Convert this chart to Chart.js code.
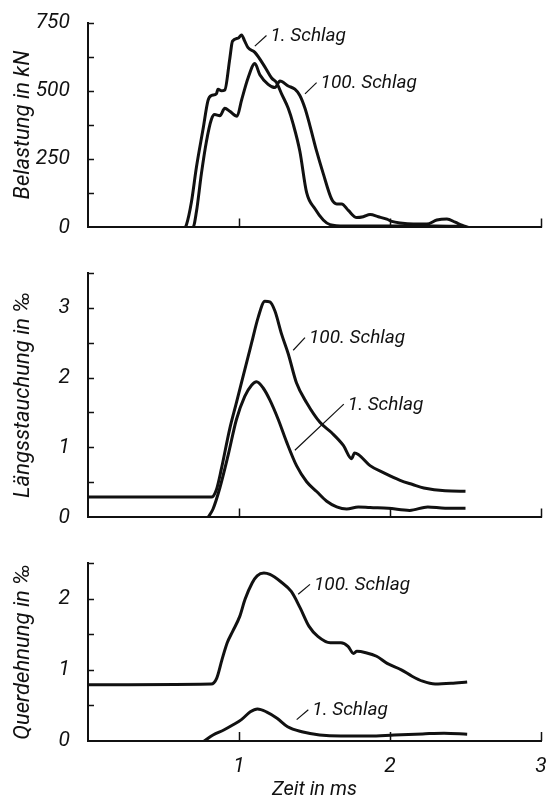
<!DOCTYPE html>
<html>
<head>
<meta charset="utf-8">
<script src="https://cdn.jsdelivr.net/npm/chart.js@4.4.0/dist/chart.umd.min.js"></script>
<style>
  body { margin: 0; background: #fff; width: 552px; height: 802px; overflow: hidden; position: relative; }
  canvas { position: absolute; left: 0; }
</style>
</head>
<body>
<canvas id="chartBelastung" width="552" height="250" style="top:0px"></canvas>
<canvas id="chartLaengs" width="552" height="290" style="top:250px"></canvas>
<canvas id="chartQuer" width="552" height="262" style="top:540px"></canvas>
<script>
// Zeit in ms / Werte

// Belastung in kN
const belZeit1 = [0.60, 0.64, 0.652, 0.685, 0.718, 0.762, 0.795, 0.817, 0.85, 0.861, 0.884, 0.906, 0.939, 0.957, 0.994, 1.017, 1.038, 1.06, 1.105, 1.171, 1.216, 1.249, 1.282, 1.326, 1.359, 1.403, 1.448, 1.503, 1.558, 1.603, 1.7, 2.0, 2.3, 2.5];
const belWert1 = [0, 0, 10, 93, 220, 360, 465, 483, 489, 506, 500, 503, 618, 682, 693, 705, 682, 658, 641, 588, 547, 530, 489, 436, 378, 279, 127, 68, 27, 10, 5, 5, 5, 3];
const belZeit100 = [0.66, 0.695, 0.718, 0.751, 0.784, 0.817, 0.839, 0.873, 0.906, 0.939, 0.987, 1.017, 1.06, 1.105, 1.138, 1.193, 1.238, 1.271, 1.326, 1.37, 1.403, 1.437, 1.47, 1.514, 1.558, 1.614, 1.647, 1.68, 1.724, 1.78, 1.823, 1.868, 1.923, 1.979, 2.012, 2.067, 2.155, 2.244, 2.31, 2.377, 2.432, 2.476, 2.52];
const belWert100 = [0, 0, 57, 197, 314, 395, 413, 409, 436, 425, 407, 466, 547, 600, 559, 524, 512, 536, 518, 506, 483, 436, 372, 279, 197, 103, 86, 86, 62, 36, 39, 47, 39, 30, 22, 16, 12, 12, 27, 31, 19, 8, 0];

// Längsstauchung in ‰
const laeZeit1 = [0.795, 0.828, 0.873, 0.928, 0.983, 1.038, 1.083, 1.116, 1.16, 1.204, 1.26, 1.315, 1.381, 1.448, 1.514, 1.581, 1.647, 1.713, 1.79, 1.868, 1.988, 2.13, 2.25, 2.365, 2.5];
const laeWert1 = [0, 0.12, 0.42, 0.89, 1.40, 1.73, 1.89, 1.94, 1.85, 1.68, 1.40, 1.08, 0.74, 0.51, 0.37, 0.23, 0.15, 0.12, 0.15, 0.14, 0.13, 0.10, 0.15, 0.13, 0.13];
const laeZeit100 = [0, 0.817, 0.851, 0.884, 0.939, 0.983, 1.038, 1.083, 1.127, 1.171, 1.204, 1.238, 1.282, 1.326, 1.381, 1.448, 1.536, 1.614, 1.691, 1.746, 1.765, 1.79, 1.868, 1.956, 2.067, 2.15, 2.224, 2.365, 2.5];
const laeWert100 = [0.29, 0.29, 0.40, 0.70, 1.27, 1.64, 2.11, 2.49, 2.86, 3.09, 3.08, 2.95, 2.62, 2.34, 1.92, 1.64, 1.36, 1.21, 1.03, 0.84, 0.92, 0.90, 0.74, 0.64, 0.53, 0.47, 0.42, 0.38, 0.375];

// Querdehnung in ‰
const querZeit1 = [0.769, 0.828, 0.899, 0.958, 1.016, 1.075, 1.122, 1.181, 1.252, 1.322, 1.416, 1.534, 1.675, 1.864, 2.028, 2.216, 2.358, 2.511];
const querWert1 = [0, 0.085, 0.155, 0.225, 0.30, 0.41, 0.45, 0.41, 0.32, 0.20, 0.13, 0.085, 0.07, 0.07, 0.085, 0.10, 0.11, 0.095];
const querZeit100 = [0, 0.816, 0.852, 0.887, 0.922, 0.958, 1.005, 1.04, 1.087, 1.12, 1.165, 1.205, 1.275, 1.346, 1.405, 1.464, 1.522, 1.605, 1.675, 1.722, 1.758, 1.781, 1.84, 1.911, 1.981, 2.075, 2.146, 2.216, 2.299, 2.405, 2.511];
const querWert100 = [0.79, 0.80, 0.88, 1.14, 1.38, 1.54, 1.75, 1.99, 2.22, 2.32, 2.36, 2.34, 2.24, 2.10, 1.87, 1.61, 1.47, 1.38, 1.38, 1.33, 1.23, 1.26, 1.24, 1.19, 1.09, 1.0, 0.91, 0.84, 0.80, 0.81, 0.83];

// Beschriftungen mit Hinweislinie (von Kurve -> zum Text), in Datenwerten
const notizenBel = [
  { text: '1. Schlag', von: [1.105, 664], bis: [1.182, 703] },
  { text: '100. Schlag', von: [1.437, 489], bis: [1.514, 530] }
];
const notizenLae = [
  { text: '100. Schlag', von: [1.359, 2.39], bis: [1.437, 2.57] },
  { text: '1. Schlag', von: [1.370, 0.96], bis: [1.694, 1.62] }
];
const notizenQuer = [
  { text: '100. Schlag', von: [1.392, 2.06], bis: [1.47, 2.20] },
  { text: '1. Schlag', von: [1.382, 0.30], bis: [1.459, 0.44] }
];

const SCHRIFT = 'Roboto, "Liberation Sans", sans-serif';
const FARBE = '#111';

function punkte(zeit, wert) {
  return zeit.map((t, i) => ({ x: t, y: wert[i] }));
}

function kurve(zeit, wert) {
  return {
    data: punkte(zeit, wert),
    borderColor: FARBE,
    borderWidth: 3,
    pointRadius: 0,
    fill: false,
    cubicInterpolationMode: 'monotone'
  };
}

// Striche nach innen an den Achsen
const innenTicks = {
  id: 'innenTicks',
  afterDraw(chart) {
    const { ctx, chartArea } = chart;
    const x = chart.scales.x, y = chart.scales.y;
    ctx.save();
    ctx.strokeStyle = FARBE;
    ctx.lineWidth = 1.5;
    ctx.beginPath();
    y.ticks.forEach(tk => {
      if (tk.value === 0) return;
      const py = Math.round(y.getPixelForValue(tk.value)) + 0.5;
      ctx.moveTo(chartArea.left, py);
      ctx.lineTo(chartArea.left + 6, py);
    });
    x.ticks.forEach(tk => {
      if (tk.value === 0) return;
      const px = Math.round(x.getPixelForValue(tk.value)) + 0.5;
      ctx.moveTo(px, chartArea.bottom);
      ctx.lineTo(px, chartArea.bottom - 9);
    });
    ctx.stroke();
    ctx.restore();
  }
};

// Texte "1. Schlag" / "100. Schlag" mit Hinweislinie
const notizen = {
  id: 'notizen',
  afterDraw(chart, args, opts) {
    const { ctx } = chart;
    const x = chart.scales.x, y = chart.scales.y;
    ctx.save();
    ctx.strokeStyle = FARBE;
    ctx.fillStyle = FARBE;
    ctx.lineWidth = 1.2;
    ctx.font = 'italic 19px ' + SCHRIFT;
    ctx.textBaseline = 'middle';
    (opts.items || []).forEach(n => {
      const x1 = x.getPixelForValue(n.von[0]), y1 = y.getPixelForValue(n.von[1]);
      const x2 = x.getPixelForValue(n.bis[0]), y2 = y.getPixelForValue(n.bis[1]);
      ctx.beginPath();
      ctx.moveTo(x1, y1);
      ctx.lineTo(x2, y2);
      ctx.stroke();
      ctx.fillText(n.text, x2 + 4, y2 + 1);
    });
    ctx.restore();
  }
};

function machDiagramm(id, cfg) {
  const ctx = document.getElementById(id).getContext('2d');
  return new Chart(ctx, {
    type: 'line',
    data: { datasets: cfg.datasets },
    plugins: [innenTicks, notizen],
    options: {
      responsive: false,
      animation: false,
      layout: { padding: { top: cfg.oben, right: 11, left: 0, bottom: 0 } },
      plugins: {
        legend: { display: false },
        tooltip: { enabled: false },
        notizen: { items: cfg.notizen }
      },
      scales: {
        x: {
          type: 'linear',
          min: 0,
          max: 3,
          grid: { display: false },
          border: { display: true, color: FARBE, width: 2 },
          ticks: {
            display: cfg.zeigeX,
            stepSize: 1,
            padding: 5,
            color: FARBE,
            font: { family: SCHRIFT, size: 21, style: 'italic' },
            callback: v => (v === 0 ? '' : v)
          },
          title: {
            display: cfg.zeigeX,
            text: 'Zeit in ms',
            color: FARBE,
            padding: { top: 0, bottom: 0 },
            font: { family: SCHRIFT, size: 20, style: 'italic' }
          },
          afterFit: s => { s.height = cfg.xHoehe; }
        },
        y: {
          min: 0,
          max: cfg.yMax,
          grid: { display: false },
          border: { display: true, color: FARBE, width: 2 },
          ticks: {
            stepSize: cfg.yStep,
            padding: 10,
            color: FARBE,
            font: { family: SCHRIFT, size: 21, style: 'italic' },
            callback: v => (Math.abs(v / cfg.yHaupt - Math.round(v / cfg.yHaupt)) < 1e-6 ? v : '')
          },
          title: {
            display: true,
            text: cfg.titel,
            color: FARBE,
            padding: { top: 10, bottom: 0 },
            font: { family: SCHRIFT, size: 22, style: 'italic' }
          },
          afterFit: s => { s.width = 88; }
        }
      }
    }
  });
}

machDiagramm('chartBelastung', {
  datasets: [kurve(belZeit1, belWert1), kurve(belZeit100, belWert100)],
  yMax: 750, yStep: 125, yHaupt: 250,
  titel: 'Belastung in kN',
  zeigeX: false, oben: 16, xHoehe: 20,
  notizen: notizenBel
});

machDiagramm('chartLaengs', {
  datasets: [kurve(laeZeit1, laeWert1), kurve(laeZeit100, laeWert100)],
  yMax: 3.5, yStep: 0.5, yHaupt: 1,
  titel: 'Längsstauchung in ‰',
  zeigeX: false, oben: 21, xHoehe: 20,
  notizen: notizenLae
});

machDiagramm('chartQuer', {
  datasets: [kurve(querZeit1, querWert1), kurve(querZeit100, querWert100)],
  yMax: 2.5, yStep: 0.5, yHaupt: 1,
  titel: 'Querdehnung in ‰',
  zeigeX: true, oben: 23, xHoehe: 61,
  notizen: notizenQuer
});
</script>
</body>
</html>
